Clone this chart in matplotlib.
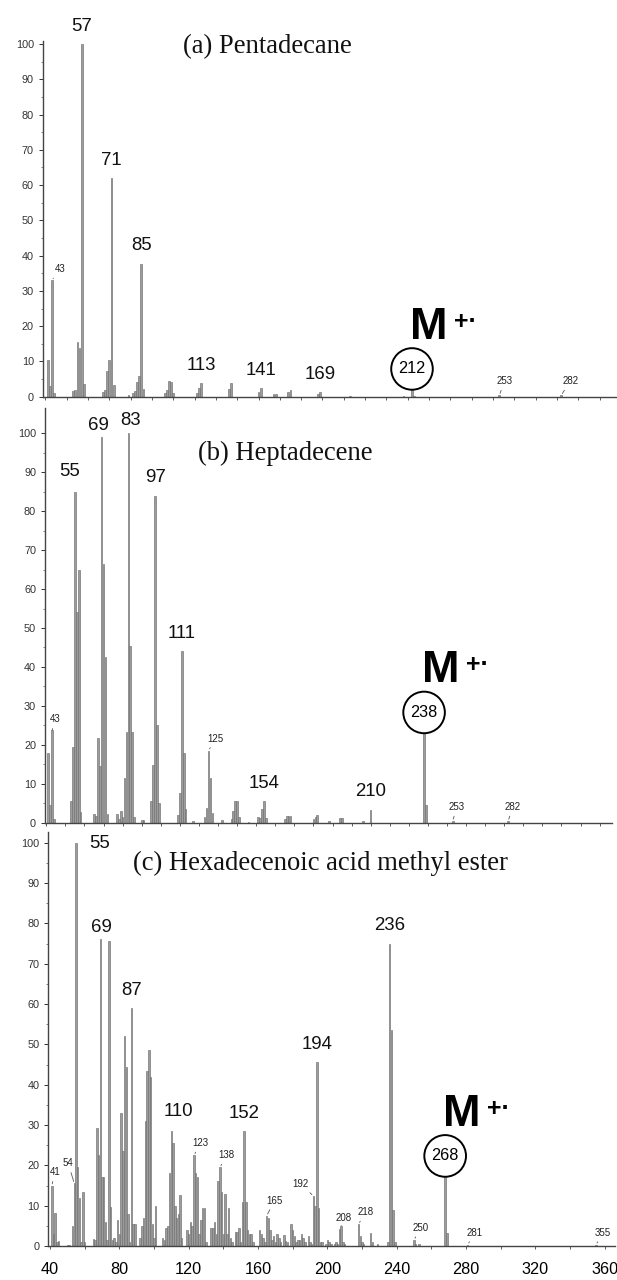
import matplotlib.pyplot as plt

# ---- data (m/z, relative intensity %) ----
# (a) Pentadecane
mz_a = [41, 42, 43, 44, 53, 54, 55, 56, 57, 58, 67, 68, 69, 70, 71, 72,
        79, 81, 82, 83, 84, 85, 86, 96, 97, 98, 99, 100, 111, 112, 113,
        126, 127, 140, 141, 147, 148, 154, 155, 168, 169, 183, 208, 212, 213,
        253, 282]
int_a = [10.5, 3, 33, 1, 1.5, 2, 15.5, 13.8, 100, 3.5, 1.2, 1.8, 7.3, 10.5, 62, 3.2,
         0.5, 1, 1.5, 4.3, 5.8, 37.7, 2.2, 1, 2, 4.5, 4.2, 1, 1, 2.5, 3.8,
         2.2, 3.8, 1.3, 2.4, 0.8, 0.7, 1.4, 1.8, 0.8, 1.2, 0.3, 0.3, 2.0, 0.3,
         0.4, 0.4]
big_a = [57, 71, 85, 113, 141, 169]
small_a = [43, 253, 282]
mol_a = 212

# (b) Heptadecene
mz_b = [41, 42, 43, 44, 53, 54, 55, 56, 57, 58, 65, 66, 67, 68, 69, 70, 71, 72,
        77, 78, 79, 80, 81, 82, 83, 84, 85, 86, 90, 91, 95, 96, 97, 98, 99,
        109, 110, 111, 112, 113, 117, 123, 124, 125, 126, 127, 132,
        137, 138, 139, 140, 141, 146, 151, 152, 153, 154, 155,
        165, 166, 167, 168, 180, 181, 182, 188, 194, 195, 206, 210, 238, 239, 253, 282]
int_b = [17.8, 4.5, 23.7, 1, 5.5, 19.5, 85, 54, 65, 2.7, 2.2, 1.8, 21.7, 14.5, 99, 66.5, 42.5, 2.2,
         2.2, 1, 3, 1.5, 11.5, 23.3, 100, 45.5, 23.2, 1.5, 0.6, 0.6, 5.5, 14.8, 84, 25.2, 5,
         2, 7.5, 44, 18, 3.5, 0.5, 1.5, 3.7, 18.5, 11.5, 2.5, 0.8,
         1, 3, 5.5, 5.5, 1.5, 0.3, 1.5, 1.2, 3.5, 5.5, 1.2,
         1, 1.8, 1.8, 1.8, 1, 1.5, 2, 0.5, 1.2, 1.2, 0.5, 3.3, 23, 4.5, 0.4, 0.4]
big_b = [55, 69, 83, 97, 111, 154, 210]
small_b = [43, 125, 253, 282]
mol_b = 238

# (c) Hexadecenoic acid methyl ester
mz_c = [41, 42, 43, 44, 45, 50, 51, 53, 54, 55, 56, 57, 58, 59, 60,
        65, 66, 67, 68, 69, 70, 71, 72, 73, 74, 75, 76, 77, 78, 79, 80,
        81, 82, 83, 84, 85, 86, 87, 88, 89,
        92, 93, 94, 95, 96, 97, 98, 99, 100, 101,
        105, 106, 107, 108, 109, 110, 111, 112, 113, 114, 115, 116,
        119, 120, 121, 122, 123, 124, 125, 126, 127, 128, 129, 130,
        133, 134, 135, 136, 137, 138, 139, 140, 141, 142, 143, 144, 145,
        147, 148, 149, 150, 151, 152, 153, 154, 155, 156, 157,
        161, 162, 163, 164, 165, 166, 167, 168, 169, 170, 171, 172, 173,
        175, 176, 177, 179, 180, 181, 182, 183, 184, 185, 186, 187, 189, 190, 191,
        192, 193, 194, 195, 196, 197, 199, 200, 201, 202, 204, 205, 206,
        207, 208, 209, 210, 218, 219, 220, 221, 225, 226, 229,
        235, 236, 237, 238, 239, 250, 251, 253, 268, 269, 281, 355]
int_c = [14.9, 3, 8.3, 1, 1.3, 0.3, 0.3, 5, 15.5, 100, 19.7, 12, 1, 13.3, 1,
         1.8, 1.5, 29.3, 22.5, 76, 17, 17, 6, 1.5, 75.5, 9.7, 1.5, 2, 1, 6.5, 3,
         33, 23.5, 52, 44.5, 8, 1, 59, 5.5, 5.5,
         2, 5, 7, 31, 43.5, 48.5, 42, 5.5, 2, 10,
         2, 1.5, 4.5, 5, 18, 28.5, 25.5, 10, 7, 8, 12.7, 2,
         4, 3, 6, 5, 22.5, 18, 17, 3, 6.5, 9.5, 9.3, 1,
         4.5, 4.5, 6, 3, 16, 19.5, 13.5, 3, 13, 3, 9.5, 2, 1,
         3.5, 3.5, 4.5, 1, 10.8, 28.5, 10.8, 4, 3, 3, 1,
         4, 3, 2, 1, 7.5, 7, 4, 1.5, 2.5, 1, 3, 2, 1,
         2.8, 1.2, 1, 5.5, 4, 2.5, 1, 1.5, 1.5, 3, 2, 1, 2.5, 1, 0.5,
         12.4, 9.9, 45.5, 9.5, 1, 1, 0.5, 1.5, 1, 0.5, 0.5, 1, 0.5,
         4.1, 5, 1, 0.5, 5.4, 2.5, 1, 0.5, 3.1, 1, 0.5,
         1, 75, 53.5, 8.9, 1, 1.5, 0.5, 0.5, 17.2, 3.1, 0.3, 0.3]
big_c = [55, 69, 87, 110, 152, 194, 236]
small_c = [41, 54, 123, 138, 165, 192, 208, 218, 250, 281, 355]
mol_c = 268

titles = ['(a) Pentadecane', '(b) Heptadecene', '(c) Hexadecenoic acid methyl ester']
y_ticks = [0, 10, 20, 30, 40, 50, 60, 70, 80, 90, 100]
x_ticks_c = [40, 80, 120, 160, 200, 240, 280, 320, 360]

# ---- layout (pixels of the 617x1280 canvas) ----
W, H = 617, 1280
PT = 0.72  # points per pixel at dpi 100
SANS = 'Liberation Sans'
SERIF = 'Liberation Serif'

fig = plt.figure(figsize=(W / 100, H / 100), dpi=100)


def make_axes(left, right, top, base):
    return fig.add_axes([left / W, 1 - base / H, (right - left) / W, (base - top) / H])


layout = [
    # left, right, top, base, xlim, ytop, title centre
    (42.7, 617, 40.5, 396.7, (38.7, 308.2), 101, (267, 47)),
    (45, 612, 408, 822.7, (39.3, 336.5), 106.5, (285, 453)),
    (48.3, 615, 832, 1246, (39.0, 366.0), 102.65, (320, 863)),
]
spectra = [(mz_a, int_a, big_a, small_a, mol_a),
           (mz_b, int_b, big_b, small_b, mol_b),
           (mz_c, int_c, big_c, small_c, mol_c)]

# label nudges in pixels (dx, dy above the peak top)
big_shift = {(1, 55): (-5, 20), (1, 69): (-3, 12), (1, 83): (2, 12.5),
             (2, 55): (24, -1), (2, 69): (1, 12), (2, 110): (7, 20)}
small_shift = {(0, 43): (8, 11), (0, 253): (5, 14), (0, 282): (9, 14),
               (1, 43): (3, 11), (1, 253): (4, 14), (1, 282): (5, 14),
               (2, 41): (3, 13.5), (2, 54): (-6, 20), (2, 165): (8, 15),
               (2, 192): (-13, 12), (2, 208): (2, 8)}

for i, ((left, right, top, base, xlim, ytop, tpos), (mz, inten, big, small, mol)) in \
        enumerate(zip(layout, spectra)):
    ax = make_axes(left, right, top, base)
    ax.bar(mz, inten, width=0.85, color='#9c9c9c', edgecolor='#707070',
           linewidth=0.45, zorder=2)
    ax.set_xlim(*xlim)
    ax.set_ylim(0, ytop)
    for s in ('top', 'right'):
        ax.spines[s].set_visible(False)
    for s in ('left', 'bottom'):
        ax.spines[s].set_color('#444444')
        ax.spines[s].set_linewidth(1.0)
    ax.set_yticks(y_ticks)
    ax.set_yticks(range(0, 101, 5), minor=True)
    ax.tick_params(axis='y', which='major', length=3.2, width=0.7, pad=3.2,
                   labelsize=7.8, colors='#333333')
    ax.tick_params(axis='y', which='minor', length=1.8, width=0.5, colors='#555555')
    for lab in ax.get_yticklabels():
        lab.set_fontfamily(SANS)
    if i < 2:
        ax.set_xticks(range(40, int(xlim[1]) + 1, 10))
        ax.set_xticklabels([])
        ax.tick_params(axis='x', length=2.5, width=0.6, colors='#444444')
    else:
        ax.set_xticks(x_ticks_c)
        ax.set_xticklabels([str(v) for v in x_ticks_c], fontfamily=SANS)
        ax.set_xticks(range(40, 361, 20), minor=True)
        ax.tick_params(axis='x', which='both', length=2.5, width=0.6, pad=9,
                       labelsize=11.7, colors='#444444')
        ax.tick_params(axis='x', which='major', labelcolor='black')

    peak = dict(zip(mz, inten))
    for m in big:
        dx, dy = big_shift.get((i, m), (0, 18))
        ax.annotate(str(m), xy=(m, peak[m]), xytext=(dx * PT, dy * PT),
                    textcoords='offset points', ha='center', va='center',
                    fontsize=13.4, fontfamily=SANS, color='#111111', zorder=5)
    for m in small:
        dx, dy = small_shift.get((i, m), (7, 12))
        ax.annotate(str(m), xy=(m, peak[m]), xytext=(dx * PT, dy * PT),
                    textcoords='offset points', ha='center', va='center',
                    fontsize=7, fontfamily=SANS, color='#222222', zorder=5,
                    arrowprops=dict(arrowstyle='-', lw=0.6, color='#555555',
                                    shrinkA=1, shrinkB=1.5))
    # molecular ion: circled mass with M+. above
    r = 20.7
    ax.annotate(str(mol), xy=(mol, peak[mol]), xytext=(0, r * PT),
                textcoords='offset points', ha='center', va='center',
                fontsize=11.7, fontfamily=SANS, zorder=6,
                bbox=dict(boxstyle='circle,pad=0.44', fc='white', ec='black', lw=1.4))
    ax.annotate('M', xy=(mol, peak[mol]), xytext=(16.5 * PT, (r + 41.5) * PT),
                textcoords='offset points', ha='center', va='center',
                fontsize=32.5, fontweight='bold', fontfamily=SANS, zorder=6)
    ax.annotate('+\u00b7', xy=(mol, peak[mol]), xytext=(53 * PT, (r + 47) * PT),
                textcoords='offset points', ha='center', va='center',
                fontsize=18, fontweight='bold', fontfamily=SANS, zorder=6)

    fig.text(tpos[0] / W, 1 - tpos[1] / H, titles[i], ha='center', va='center',
             fontsize=19.2, fontfamily=SERIF, color='#111111')

fig.savefig('out.png', dpi=100)
